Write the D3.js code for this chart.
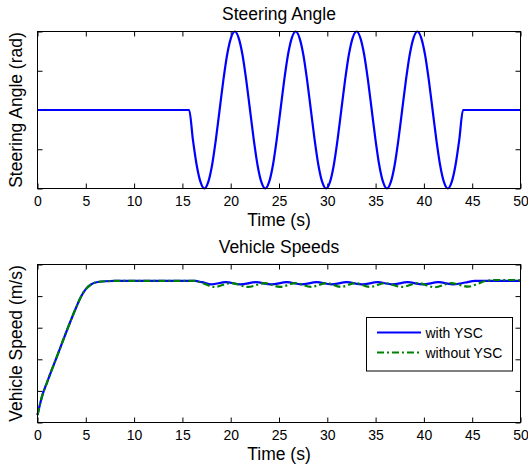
<!DOCTYPE html>
<html>
<head>
<meta charset="utf-8">
<script src="https://cdn.jsdelivr.net/npm/d3@7"></script>
<style>
  html, body { margin: 0; padding: 0; background: #fff; }
  svg { display: block; font-family: "Liberation Sans", Arial, sans-serif; }
</style>
</head>
<body>
<svg id="chart" width="528" height="469"></svg>
<script>
// ---------- DATA ----------
const xTicks = [0, 5, 10, 15, 20, 25, 30, 35, 40, 45, 50];
const steerYTicks = [-0.1, -0.05, 0, 0.05, 0.1];
const speedYTicks = [0, 5, 10, 15, 20, 25];

const steerTime = [0,
  15.70, 16.09, 16.49, 16.88, 17.28, 17.67, 18.06, 18.46,
  18.85, 19.24, 19.64, 20.03, 20.43, 20.82, 21.21, 21.61,
  22.00, 22.39, 22.79, 23.18, 23.58, 23.97, 24.36, 24.76,
  25.15, 25.54, 25.94, 26.33, 26.73, 27.12, 27.51, 27.91,
  28.30, 28.69, 29.09, 29.48, 29.88, 30.27, 30.66, 31.06,
  31.45, 31.84, 32.24, 32.63, 33.03, 33.42, 33.81, 34.21,
  34.60, 34.99, 35.39, 35.78, 36.18, 36.57, 36.96, 37.36,
  37.75, 38.14, 38.54, 38.93, 39.33, 39.72, 40.11, 40.51,
  40.90, 41.29, 41.69, 42.08, 42.48, 42.87, 43.26, 43.66,
  44.05, 50];
const steerAngle = [0,
  0, -0.038, -0.071, -0.092, -0.1, -0.092, -0.071, -0.038,
  0, 0.038, 0.071, 0.092, 0.1, 0.092, 0.071, 0.038,
  0, -0.038, -0.071, -0.092, -0.1, -0.092, -0.071, -0.038,
  0, 0.038, 0.071, 0.092, 0.1, 0.092, 0.071, 0.038,
  0, -0.038, -0.071, -0.092, -0.1, -0.092, -0.071, -0.038,
  0, 0.038, 0.071, 0.092, 0.1, 0.092, 0.071, 0.038,
  0, -0.038, -0.071, -0.092, -0.1, -0.092, -0.071, -0.038,
  0, 0.038, 0.071, 0.092, 0.1, 0.092, 0.071, 0.038,
  0, -0.038, -0.071, -0.092, -0.1, -0.092, -0.071, -0.038,
  0, 0];

const ysTime = [0, 0.5, 1, 2, 3, 4, 4.5, 5, 5.5, 6, 7, 8, 16.3, 17.0,
  18.0, 19.5, 21.0, 22.6, 24.2, 25.8, 27.3, 28.9, 30.4, 32.0, 33.6, 35.2,
  36.7, 38.3, 39.9, 41.5, 43.1, 44.3, 45.3, 50];
const withYSC = [1.2, 4.3, 6.4, 10.4, 14.4, 18.2, 19.9, 21.1, 21.8, 22.15, 22.35, 22.4, 22.4, 22.2,
  21.85, 22.2, 21.85, 22.2, 21.85, 22.2, 21.85, 22.2, 21.85, 22.2, 21.85, 22.2,
  21.85, 22.2, 21.85, 22.2, 21.85, 22.15, 22.4, 22.4];

const noTime = [0, 0.5, 1, 2, 3, 4, 4.5, 5, 5.5, 6, 7, 8, 16.3, 17.0,
  18.3, 20.0, 21.8, 23.5, 25.1, 26.7, 28.3, 29.9, 31.4, 32.9, 34.4, 36.0,
  37.7, 39.4, 41.1, 42.8, 44.6, 45.5, 46.4, 47.5, 49.5, 50];
const withoutYSC = [1.2, 4.3, 6.4, 10.4, 14.4, 18.2, 19.9, 21.1, 21.8, 22.15, 22.35, 22.4, 22.4, 22.1,
  21.45, 22.05, 21.45, 22.05, 21.45, 22.05, 21.45, 22.05, 21.45, 22.05, 21.45, 22.05,
  21.45, 22.05, 21.4, 22.05, 21.5, 21.9, 22.4, 22.55, 22.55, 22.5];

const legendLabels = ["with YSC", "without YSC"];

// ---------- LAYOUT ----------
const svg = d3.select("#chart");
const left = 37.5, right = 520.5;
const panels = [
  { top: 31.5, bottom: 188.5, title: "Steering Angle", ylabel: "Steering Angle (rad)",
    ydomain: [-0.1, 0.1], yticks: steerYTicks },
  { top: 264.5, bottom: 422.5, title: "Vehicle Speeds", ylabel: "Vehicle Speed (m/s)",
    ydomain: [0, 25], yticks: speedYTicks }
];

const x = d3.scaleLinear().domain([0, 50]).range([left, right]);

panels.forEach((p, i) => {
  const y = d3.scaleLinear().domain(p.ydomain).range([p.bottom, p.top]);
  p.y = y;
  const g = svg.append("g");

  // white plot background
  g.append("rect").attr("x", left).attr("y", p.top)
    .attr("width", right - left).attr("height", p.bottom - p.top)
    .attr("fill", "#fff");

  // axes (inward ticks)
  const ax = [
    g.append("g").attr("transform", `translate(0,${p.bottom})`)
      .call(d3.axisBottom(x).tickValues(xTicks).tickSize(-5).tickSizeOuter(0).tickPadding(8).tickFormat(d3.format("d"))),
    g.append("g").attr("transform", `translate(0,${p.top})`)
      .call(d3.axisTop(x).tickValues(xTicks).tickSize(-5).tickSizeOuter(0).tickFormat("")),
    g.append("g").attr("transform", `translate(${left},0)`)
      .call(d3.axisLeft(y).tickValues(p.yticks).tickSize(-5).tickSizeOuter(0).tickFormat("")),
    g.append("g").attr("transform", `translate(${right},0)`)
      .call(d3.axisRight(y).tickValues(p.yticks).tickSize(-5).tickSizeOuter(0).tickFormat(""))
  ];
  ax.forEach(a => {
    a.select(".domain").remove();
    a.selectAll("line").attr("stroke", "#000").attr("stroke-width", 1);
    a.selectAll("text").attr("font-size", 14).attr("fill", "#000")
      .attr("font-family", "Liberation Sans, Arial, sans-serif");
  });

  p.g = g;
});

// ---------- LINES ----------
const p1 = panels[0], p2 = panels[1];
const steerLine = d3.line().x((d, i) => x(steerTime[i])).y(d => p1.y(d)).curve(d3.curveMonotoneX);
p1.g.append("path").datum(steerAngle).attr("d", steerLine)
  .attr("fill", "none").attr("stroke", "#0000ff").attr("stroke-width", 2.2)
  .attr("stroke-linejoin", "round");

const line1 = d3.line().x((d, i) => x(ysTime[i])).y(d => p2.y(d)).curve(d3.curveMonotoneX);
const line2 = d3.line().x((d, i) => x(noTime[i])).y(d => p2.y(d)).curve(d3.curveMonotoneX);
p2.g.append("path").datum(withYSC).attr("d", line1)
  .attr("fill", "none").attr("stroke", "#0000ff").attr("stroke-width", 2.2);
p2.g.append("path").datum(withoutYSC).attr("d", line2)
  .attr("fill", "none").attr("stroke", "#008000").attr("stroke-width", 2.2)
  .attr("stroke-dasharray", "7,3,2,3");

// ---------- FRAMES, TITLES, LABELS ----------
panels.forEach((p, i) => {
  p.g.append("rect").attr("x", left).attr("y", p.top)
    .attr("width", right - left).attr("height", p.bottom - p.top)
    .attr("fill", "none").attr("stroke", "#000").attr("stroke-width", 1);
  p.g.append("text").attr("x", (left + right) / 2).attr("y", p.top - 11.5)
    .attr("text-anchor", "middle").attr("font-size", 17.5).attr("fill", "#000")
    .text(p.title);
  p.g.append("text").attr("x", (left + right) / 2).attr("y", p.bottom + 37.5)
    .attr("text-anchor", "middle").attr("font-size", 17.5).attr("fill", "#000")
    .text("Time (s)");
  const cy = (p.top + p.bottom) / 2;
  p.g.append("text").attr("transform", `translate(22,${cy}) rotate(-90)`)
    .attr("text-anchor", "middle").attr("font-size", 17.5).attr("fill", "#000")
    .text(p.ylabel);
});

// ---------- LEGEND ----------
const lg = p2.g.append("g");
lg.append("rect").attr("x", 366.5).attr("y", 317.5).attr("width", 146).attr("height", 53.5)
  .attr("fill", "#fff").attr("stroke", "#000").attr("stroke-width", 1);
const legendColors = ["#0000ff", "#008000"];
const legendDash = [null, "7,3,2,3"];
legendLabels.forEach((lab, i) => {
  const yy = 332.5 + i * 20;
  lg.append("line").attr("x1", 377).attr("x2", 421).attr("y1", yy).attr("y2", yy)
    .attr("stroke", legendColors[i]).attr("stroke-width", 2.2)
    .attr("stroke-dasharray", legendDash[i]);
  lg.append("text").attr("x", 425.5).attr("y", yy + 5).attr("font-size", 14).attr("fill", "#000")
    .text(lab);
});
</script>
</body>
</html>
